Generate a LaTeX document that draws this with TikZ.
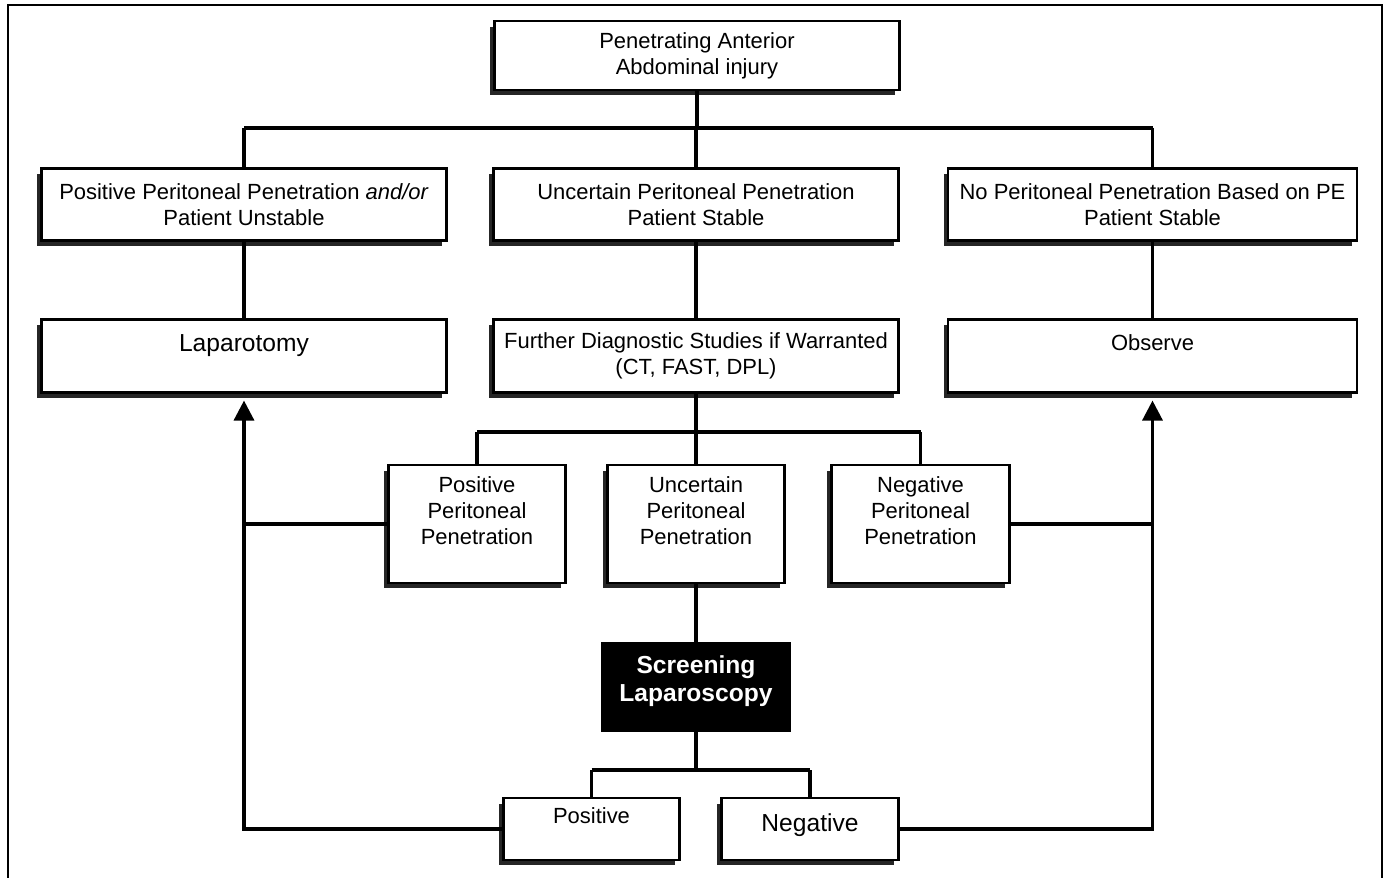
\documentclass[tikz,border=0pt]{standalone}
\usepackage{fontspec}
\setmainfont{Liberation Sans}
\usetikzlibrary{arrows.meta, positioning, shadows}

\begin{document}
\begin{tikzpicture}[
  x=0.02cm, y=-0.02cm,
  box/.style={
    rectangle,
    draw,
    line width=1.5pt,
    fill=white,
    inner sep=0pt,
    align=center,
    font=\fontsize{12.5}{14.8}\selectfont,
    drop shadow={shadow xshift=-0.09cm, shadow yshift=-0.11cm,
      fill=black!85, opacity=1}
  },
  wide/.style={
    box,
    minimum width=8.1cm,
    minimum height=1.45cm
  },
  small/.style={
    box,
    minimum width=3.55cm,
    minimum height=2.36cm
  },
  leaf/.style={
    box,
    minimum width=3.53cm,
    minimum height=1.24cm
  },
  big/.style={font=\fontsize{14}{14.8}\selectfont},
  screen/.style={
    rectangle,
    fill=black,
    text=white,
    inner sep=0pt,
    align=center,
    minimum width=3.82cm,
    minimum height=1.8cm,
    font=\fontsize{14}{16}\selectfont\bfseries
  },
  line/.style={line width=1.9pt},
  arrow/.style={line, -{Triangle[width=0.4cm,length=0.4cm]}, shorten >=0.14cm}
]

\useasboundingbox (0,0) rectangle (1384,878);
\draw[line width=0.8pt] (8,878) -- (8,5) -- (1382,5) -- (1382,878);

% ============================================================
% Top: injury and first split
% ============================================================

\node[wide, minimum height=1.38cm] (injury) at (697,55.5) {Penetrating Anterior\\Abdominal injury};

\node[wide] (pospp) at (244,204.5) {Positive Peritoneal Penetration \textit{and/or}\\Patient Unstable};
\node[wide] (uncpp) at (696,204.5) {Uncertain Peritoneal Penetration\\Patient Stable};
\node[wide, minimum width=8.18cm] (nopp) at (1152.5,204.5) {No Peritoneal Penetration Based on PE\\Patient Stable};

\coordinate (busa) at (0,128);
\draw[line] (injury.south) -- (injury.south |- busa);
\draw[line] (pospp.north |- busa) -- (nopp.north |- busa);
\draw[line] (pospp.north |- busa) -- (pospp.north);
\draw[line] (uncpp.north |- busa) -- (uncpp.north);
\draw[line] (nopp.north |- busa) -- (nopp.north);

% ============================================================
% Second row: actions
% ============================================================

\node[wide, big] (lapar) at (244,356) {Laparotomy\\[0pt]~};
\node[wide] (further) at (696,356) {Further Diagnostic Studies if Warranted\\(CT, FAST, DPL)};
\node[wide, minimum width=8.18cm] (observe) at (1152.5,356) {Observe\\[0pt]~};

\draw[line] (pospp.south) -- (lapar.north);
\draw[line] (uncpp.south) -- (further.north);
\draw[line] (nopp.south) -- (observe.north);

% ============================================================
% Third row: study results
% ============================================================

\node[small] (respos) at (477,524) {Positive\\Peritoneal\\Penetration\\[0pt]~};
\node[small] (resunc) at (696,524) {Uncertain\\Peritoneal\\Penetration\\[0pt]~};
\node[small] (resneg) at (920.5,524) {Negative\\Peritoneal\\Penetration\\[0pt]~};

\coordinate (busb) at (0,432);
\draw[line] (further.south) -- (further.south |- busb);
\draw[line] (respos.north |- busb) -- (resneg.north |- busb);
\draw[line] (respos.north |- busb) -- (respos.north);
\draw[line] (resunc.north |- busb) -- (resunc.north);
\draw[line] (resneg.north |- busb) -- (resneg.north);

% ============================================================
% Screening laparoscopy
% ============================================================

\node[screen] (screening) at (696,687) {Screening\\Laparoscopy\\[-6pt]~};
\draw[line] (resunc.south) -- (screening.north);

\node[leaf] (lappos) at (591.5,829) {Positive\\[0pt]~};
\node[leaf, big] (lapneg) at (810,829) {Negative\\[-8pt]~};

\coordinate (busc) at (0,770);
\draw[line] (screening.south) -- (screening.south |- busc);
\draw[line] (lappos.north |- busc) -- (lapneg.north |- busc);
\draw[line] (lappos.north |- busc) -- (lappos.north);
\draw[line] (lapneg.north |- busc) -- (lapneg.north);

% ============================================================
% Return arrows
% ============================================================

\draw[arrow] (lappos.west) -- (lappos.west -| lapar.south) -- (lapar.south);
\draw[line] (respos.west) -- (respos.west -| lapar.south);

\draw[arrow] (lapneg.east) -- (lapneg.east -| observe.south) -- (observe.south);
\draw[line] (resneg.east) -- (resneg.east -| observe.south);

\end{tikzpicture}
\end{document}
